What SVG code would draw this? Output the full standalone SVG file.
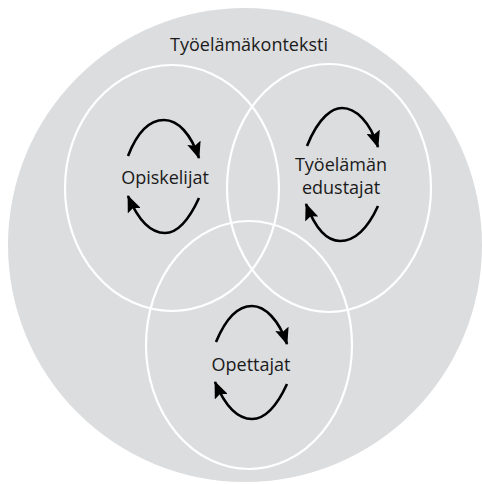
<svg xmlns="http://www.w3.org/2000/svg" width="482" height="484" viewBox="0 0 482 484">
<style>
.ctx{fill:#dcdddf;stroke:none}
.set{fill:none;stroke:#ffffff;stroke-width:2.2}
.lbl{font-family:"Open Sans","Noto Sans",sans-serif;font-size:18px;fill:#1a1a1a;text-anchor:middle}
.arc{fill:none;stroke:#000;stroke-width:2.6;marker-end:url(#ah)}
</style>
<defs>
<marker id="ah" markerUnits="userSpaceOnUse" markerWidth="18" markerHeight="14" viewBox="0 0 18 14" refX="16" refY="7" orient="auto">
<path d="M0,0 L17,7 L0,14 L3,7 Z" fill="#000"/>
</marker>
</defs>
<g id="context">
<circle class="ctx" cx="245" cy="245" r="237"/>
<text class="lbl" x="249" y="51">Työelämäkonteksti</text>
</g>
<g id="opiskelijat">
<ellipse class="set" cx="172" cy="188" rx="107" ry="123"/>
<text class="lbl" x="165" y="184">Opiskelijat</text>
</g>
<g id="tyoelama">
<ellipse class="set" cx="329" cy="188" rx="102" ry="124"/>
<text class="lbl" x="341" y="171">Työelämän</text>
<text class="lbl" x="341" y="194">edustajat</text>
</g>
<g id="opettajat">
<ellipse class="set" cx="249" cy="345" rx="103" ry="124"/>
<text class="lbl" x="251" y="371">Opettajat</text>
</g>
<g id="connectors">
<path class="arc" d="M128,156 C140,125 155,120 164,120 C178,120 191,134 199,158"/>
<path class="arc" d="M199,198 C188,222 177,233 165,233 C152,233 139,222 128,196"/>
<path class="arc" d="M307,146 C319,116 333,108 342,108 C356,108 370,122 378,147"/>
<path class="arc" d="M378,206 C367,230 354,241 340,241 C327,241 316,230 306,204"/>
<path class="arc" d="M216,342 C228,313 242,306 252,306 C265,306 279,320 287,344"/>
<path class="arc" d="M287,384 C276,408 264,419 252,419 C239,419 226,408 215,382"/>
</g>
</svg>
